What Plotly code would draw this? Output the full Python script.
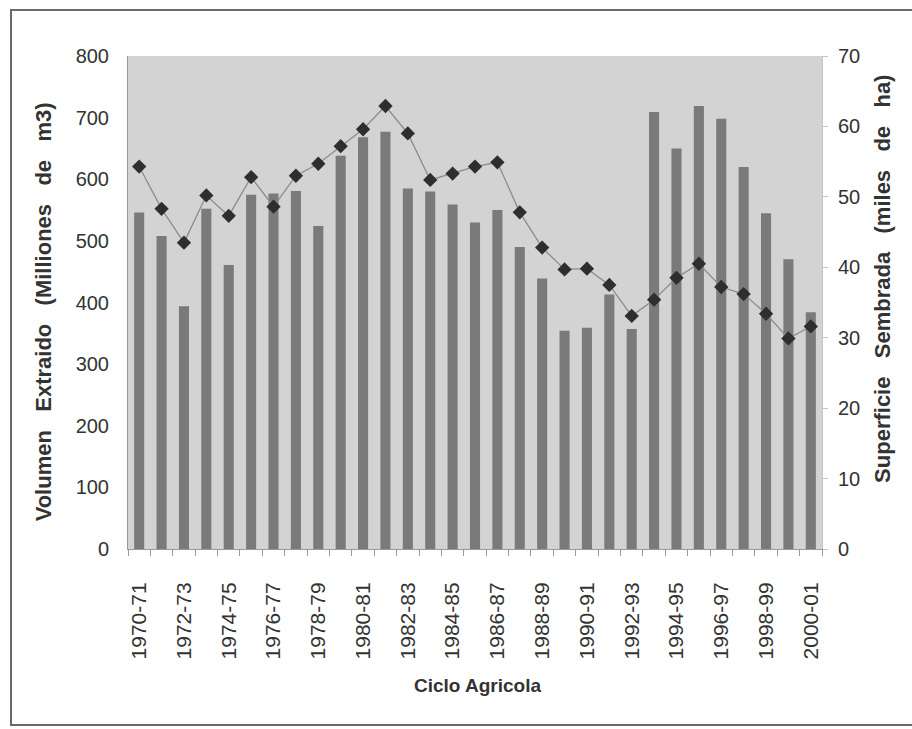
import plotly.graph_objects as go

# Ciclos agrícolas 1970-71 a 2000-01
ciclos = [
    "1970-71", "1971-72", "1972-73", "1973-74", "1974-75", "1975-76", "1976-77",
    "1977-78", "1978-79", "1979-80", "1980-81", "1981-82", "1982-83", "1983-84",
    "1984-85", "1985-86", "1986-87", "1987-88", "1988-89", "1989-90", "1990-91",
    "1991-92", "1992-93", "1993-94", "1994-95", "1995-96", "1996-97", "1997-98",
    "1998-99", "1999-00", "2000-01",
]

# Volumen extraído (millones de m3) - barras, eje izquierdo
volumen = [
    546, 508, 394, 552, 461, 575, 577, 581, 524, 638, 668, 677, 585, 580,
    559, 530, 550, 490, 439, 354, 359, 413, 357, 709, 650, 719, 698, 620,
    545, 470, 384,
]

# Superficie sembrada (miles de ha) - línea, eje derecho
superficie = [
    54.3, 48.3, 43.5, 50.2, 47.3, 52.8, 48.6, 53.0, 54.7, 57.2, 59.6, 62.9,
    59.0, 52.4, 53.3, 54.3, 54.9, 47.8, 42.8, 39.7, 39.8, 37.5, 33.1, 35.4,
    38.5, 40.5, 37.2, 36.2, 33.4, 29.9, 31.6,
]

idx = list(range(len(ciclos)))
tick_idx = idx[::2]
tick_txt = [ciclos[i] for i in tick_idx]

FONT = "Liberation Sans, Arial, sans-serif"
TXT = "#333333"
SP = "\u00a0" * 3

fig = go.Figure()
fig.add_trace(go.Bar(
    x=idx, y=volumen, name="Volumen Extraido",
    marker=dict(color="#7a7a7a", line=dict(width=0)),
    width=0.45, yaxis="y",
))
fig.add_trace(go.Scatter(
    x=idx, y=superficie, name="Superficie Sembrada", yaxis="y2",
    mode="lines+markers",
    line=dict(color="#8c8c8c", width=1.3),
    marker=dict(symbol="diamond", size=11, color="#2e2e2e"),
))

fig.update_layout(
    width=912, height=729,
    margin=dict(l=128, r=90, t=56, b=180),
    paper_bgcolor="white",
    plot_bgcolor="#d3d3d3",
    showlegend=False,
    font=dict(family=FONT, color=TXT, size=19),
    bargap=0.5,
    xaxis=dict(
        range=[-0.5, len(ciclos) - 0.5],
        tickmode="array", tickvals=tick_idx, ticktext=tick_txt,
        tickangle=-90, ticks="", ticklen=0,
        tickfont=dict(size=21, color=TXT),
        ticklabelstandoff=24,
        showgrid=False, zeroline=False,
        showline=True, linecolor="#9a9a9a", linewidth=1,
        minor=dict(
            tickmode="array",
            tickvals=[i - 0.5 for i in idx] + [len(ciclos) - 0.5],
            ticks="outside", ticklen=6, tickcolor="#9a9a9a", showgrid=False,
        ),
    ),
    yaxis=dict(
        range=[0, 800], tickvals=list(range(0, 801, 100)),
        showgrid=False, zeroline=False,
        showline=True, linecolor="#9a9a9a", linewidth=1,
        ticks="", tickfont=dict(size=20, color=TXT),
        ticklabelstandoff=14,
    ),
    yaxis2=dict(
        range=[0, 70], tickvals=list(range(0, 71, 10)),
        overlaying="y", side="right",
        showgrid=False, zeroline=False,
        showline=True, linecolor="#c4c4c4", linewidth=1,
        ticks="outside", ticklen=5, tickcolor="#c4c4c4",
        tickfont=dict(size=20, color=TXT),
        ticklabelstandoff=6,
    ),
    annotations=[
        dict(text="<b>Volumen" + SP + "Extraido" + SP + "(Milliones" + SP + "de" + SP + "m3)</b>",
             xref="paper", yref="paper", x=-0.1225, y=0.482,
             textangle=-90, showarrow=False, font=dict(size=22, color=TXT),
             xanchor="center", yanchor="middle"),
        dict(text="<b>Superficie" + SP + "Sembrada" + SP + "(miles" + SP + "de" + SP + "ha)</b>",
             xref="paper", yref="paper", x=1.088, y=0.548,
             textangle=-90, showarrow=False, font=dict(size=22, color=TXT),
             xanchor="center", yanchor="middle"),
        dict(text="<b>Ciclo Agricola</b>",
             xref="paper", yref="paper", x=0.504, y=-0.276,
             showarrow=False, font=dict(size=19, color=TXT),
             xanchor="center", yanchor="middle"),
    ],
    shapes=[
        dict(type="rect", xref="paper", yref="paper",
             x0=-0.1686, x1=1.16, y0=-0.357, y1=1.0933,
             line=dict(color="#6a6a6a", width=2), layer="below"),
    ],
)

fig.write_html("out.html")
